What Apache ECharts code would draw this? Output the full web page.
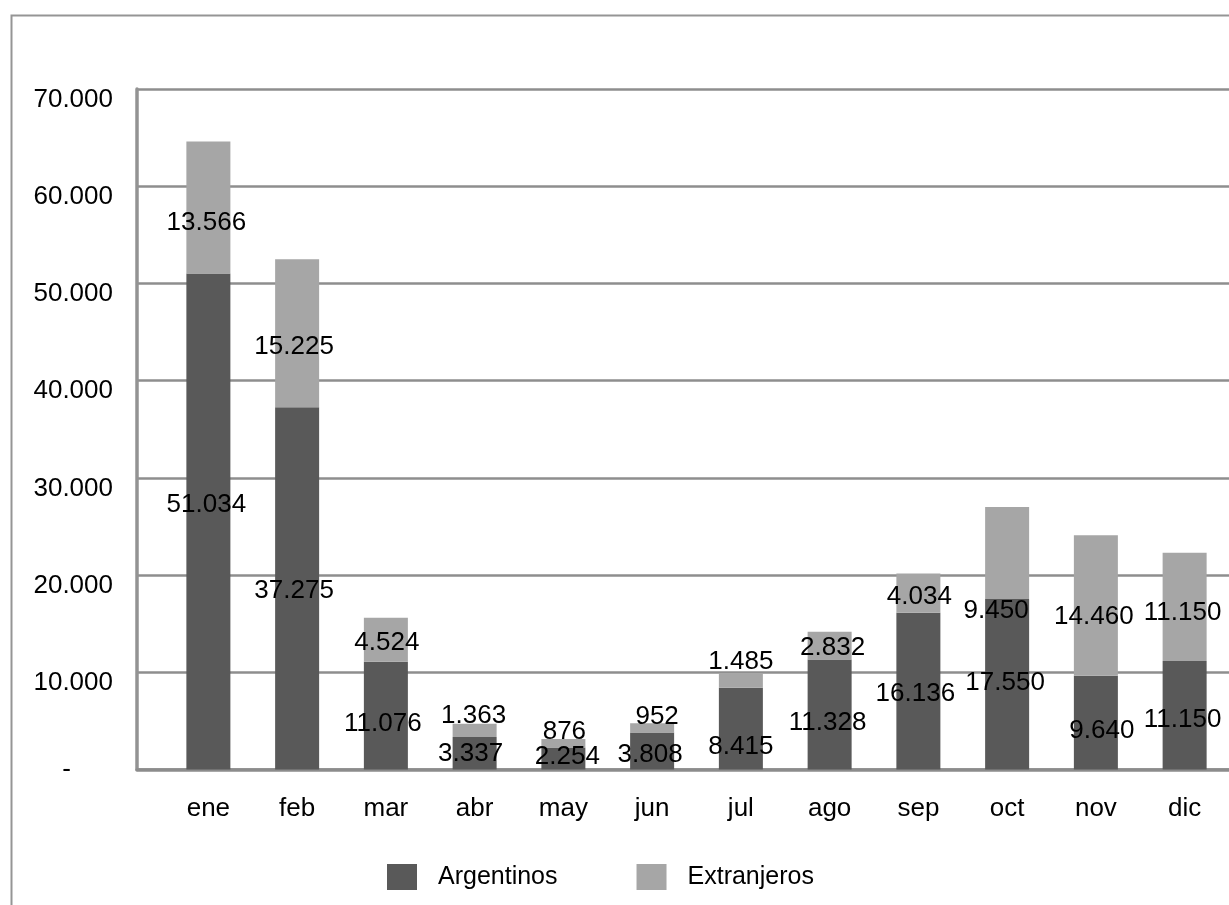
<!DOCTYPE html>
<html>
<head>
<meta charset="utf-8">
<script src="https://cdn.jsdelivr.net/npm/echarts@6/dist/echarts.min.js"></script>
<style>
  html, body { margin: 0; padding: 0; background: #fff; }
  #chart { width: 1229px; height: 905px; }
</style>
</head>
<body>
<div id="chart"></div>
<script>
// Monthly visitors, split by origin
const months = ['ene', 'feb', 'mar', 'abr', 'may', 'jun', 'jul', 'ago', 'sep', 'oct', 'nov', 'dic'];
const argentinos = [51034, 37275, 11076, 3337, 2254, 3808, 8415, 11328, 16136, 17550, 9640, 11150];
const extranjeros = [13566, 15225, 4524, 1363, 876, 952, 1485, 2832, 4034, 9450, 14460, 11150];
const yMax = 70000;
const yStep = 10000;

// label nudges [dx, dy] from the centre of each segment
const argNudge = [[-2, -17], [-3, 3], [-3, 8], [-4, 1], [4, -2], [-2, 4], [0, 18], [-2, 8], [-3, 3], [-2, -1], [6, 8], [-2, 5]];
const extNudge = [[-2, 15], [-3, 14], [1, 3], [-1, -15], [1, -12], [5, -11], [0, -19], [3, 2], [1, 4], [-11, 58], [-2, 11], [-2, 6]];

const FONT = '"Liberation Sans", Arial, sans-serif';
const fmt = n => String(n).replace(/\B(?=(\d{3})+(?!\d))/g, '.');

function withLabels(values, nudge) {
  return values.map((v, i) => ({ value: v, label: { offset: nudge[i] } }));
}

const chart = echarts.init(document.getElementById('chart'), null, { renderer: 'canvas' });

const TOP = 89, BOTTOM = 135.5;

chart.setOption({
  animation: false,
  backgroundColor: '#ffffff',
  textStyle: { fontFamily: FONT, color: '#000' },
  graphic: [{
    type: 'rect',
    shape: { x: 11.5, y: 15.5, width: 1400, height: 1000 },
    style: { fill: 'none', stroke: '#959595', lineWidth: 2 },
    silent: true
  }],
  legend: {
    left: 382,
    top: 859,
    itemWidth: 30,
    itemHeight: 26,
    itemGap: 79,
    icon: 'rect',
    textStyle: { fontFamily: FONT, fontSize: 25, color: '#000', padding: [0, 0, 0, 16] },
    data: ['Argentinos', 'Extranjeros']
  },
  grid: [
    { left: 137, top: TOP, width: 1200, bottom: BOTTOM },
    { left: 164, top: TOP, width: 1067, bottom: BOTTOM }
  ],
  xAxis: [
    {
      gridIndex: 0, type: 'value', min: 0, max: 1,
      axisLine: { show: true, lineStyle: { color: '#8c8c8c', width: 3.5 } },
      axisTick: { show: false }, axisLabel: { show: false }, splitLine: { show: false }
    },
    {
      gridIndex: 1, type: 'category', data: months,
      axisLine: { show: false }, axisTick: { show: false },
      axisLabel: { fontFamily: FONT, fontSize: 26, color: '#000', margin: 26 }
    }
  ],
  yAxis: [
    {
      gridIndex: 0, type: 'value', min: 0, max: yMax, interval: yStep,
      axisLine: { show: true, lineStyle: { color: '#939393', width: 3.5 } },
      axisTick: { show: false },
      splitLine: { show: true, lineStyle: { color: '#8e8e8e', width: 2.5 } },
      axisLabel: {
        margin: 24,
        formatter: v => v === 0 ? '{z|-}' : '{n|' + fmt(v) + '}',
        rich: {
          n: { fontFamily: FONT, fontSize: 26, color: '#000', padding: [21, 0, 0, 0] },
          z: { fontFamily: FONT, fontSize: 26, color: '#000', padding: [0, 42, 0, 0] }
        }
      }
    },
    {
      gridIndex: 1, type: 'value', min: 0, max: yMax, interval: yStep, show: false,
      splitLine: { show: false }
    }
  ],
  series: [
    {
      name: 'Argentinos', type: 'bar', stack: 'total',
      xAxisIndex: 1, yAxisIndex: 1, barWidth: 44,
      itemStyle: { color: '#595959' },
      label: { show: true, position: 'inside', fontFamily: FONT, fontSize: 26, color: '#000', formatter: p => fmt(p.value) },
      data: withLabels(argentinos, argNudge)
    },
    {
      name: 'Extranjeros', type: 'bar', stack: 'total',
      xAxisIndex: 1, yAxisIndex: 1, barWidth: 44,
      itemStyle: { color: '#a6a6a6' },
      label: { show: true, position: 'inside', fontFamily: FONT, fontSize: 26, color: '#000', formatter: p => fmt(p.value) },
      data: withLabels(extranjeros, extNudge)
    }
  ]
});
</script>
</body>
</html>
